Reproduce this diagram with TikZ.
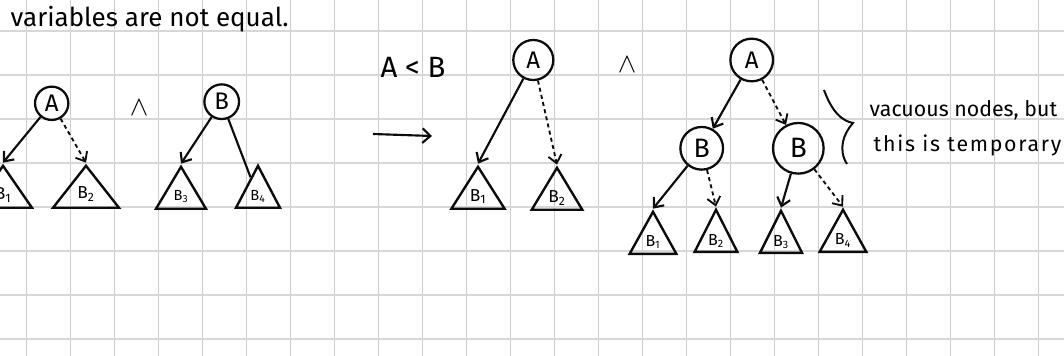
\documentclass[tikz,border=0pt]{standalone}
\usepackage{fontspec}
\setmainfont{Fira Sans}
\usepackage{xcolor}
\definecolor{gridgrey}{RGB}{205, 205, 205}
\definecolor{inkblack}{RGB}{12, 12, 12}
\usetikzlibrary{
  arrows.meta,
  shapes.geometric,
  calc
}

\begin{document}
\begin{tikzpicture}[x=0.75pt, y=-0.75pt,
  var/.style={circle, draw=inkblack, line width=1.7pt, inner sep=0pt, minimum size=#1, font=\fontsize{18}{18}\selectfont},
  subtree/.style={isosceles triangle, isosceles triangle stretches, shape border rotate=90, draw=inkblack, line width=1.8pt, inner sep=0pt, minimum width=#1, minimum height=31.5pt, anchor=lower side, font=\fontsize{13}{13}\selectfont},
  edge/.style={line width=1.6pt, inkblack, -{Straight Barb[length=6pt, width=10pt]}},
  vac/.style={edge, dash pattern=on 3pt off 2.5pt, line width=1.4pt},
  wedge/.style={font=\fontsize{20}{20}\selectfont},
  hand/.style={font=\fontsize{16}{16}\selectfont, anchor=base west}
]
  \useasboundingbox (0,0) rectangle (1064,356);

  % grid paper
  \foreach \gx in {0,...,23}
    \draw[gridgrey, line width=0.75pt] ({26.7+44*\gx},0) -- ({26.7+44*\gx},356);
  \foreach \gy in {0,...,7}
    \draw[gridgrey!80, line width=1.5pt] (0,{30.7+44*\gy}) -- (1064,{30.7+44*\gy});

  % heading
  \node[anchor=base west, font=\fontsize{19.5}{19.5}\selectfont] (head) at (6,27) {variables are not equal.};

  % first tree, rooted at A
  \node[var=25pt] (a1) at (51.7,103.3) {A};
  \node[subtree=43.5pt] (t11) at (3,209) {B\textsubscript{1}};
  \node[subtree=49.5pt] (t12) at (86,209) {B\textsubscript{2}};
  \draw[edge] (a1) -- (t11.apex);
  \draw[vac] (a1) -- (t12.apex);

  \node[wedge] (and1) at (139,108) {$\wedge$};

  % second tree, rooted at B
  \node[var=26pt] (b1) at (221.7,101.7) {B};
  \node[subtree=37.5pt, font=\fontsize{11}{11}\selectfont] (t13) at (181,210) {B\textsubscript{3}};
  \node[subtree=33pt, font=\fontsize{11}{11}\selectfont] (t14) at (258,209) {B\textsubscript{4}};
  \draw[edge] (b1) -- (t13.apex);
  \draw[line width=1.6pt, inkblack] (b1) -- (t14);

  % the rewrite step
  \node[font=\fontsize{22}{22}\selectfont] (ineq) at (413,67) {A < B};
  \coordinate (go0) at (373,134);
  \coordinate (go1) at (432,136);
  \draw[line width=1.6pt, inkblack, -{Straight Barb[length=6pt, width=11pt]}] (go0) -- (go1);

  \node[var=30pt] (a2) at (533.3,60) {A};
  \node[subtree=40pt] (t21) at (478,210) {B\textsubscript{1}};
  \node[subtree=38pt] (t22) at (557,211) {B\textsubscript{2}};
  \draw[edge] (a2) -- (t21.apex);
  \draw[vac] (a2) -- (t22.apex);

  \node[wedge] (and2) at (627,65) {$\wedge$};

  % merged tree with vacuous B nodes
  \node[var=32pt] (a3) at (751.7,60) {A};
  \node[var=32pt, font=\fontsize{20}{20}\selectfont] (b3l) at (701.7,148.3) {B};
  \node[var=38pt, font=\fontsize{21}{21}\selectfont] (b3r) at (798.3,148.3) {B};
  \draw[edge] (a3) -- (b3l);
  \draw[vac] (a3) -- (b3r);

  \node[subtree=35pt, font=\fontsize{12}{12}\selectfont] (t31) at (653,255) {B\textsubscript{1}};
  \node[subtree=32pt, font=\fontsize{12}{12}\selectfont] (t32) at (716,253) {B\textsubscript{2}};
  \node[subtree=31.5pt, font=\fontsize{12}{12}\selectfont] (t33) at (781,254) {B\textsubscript{3}};
  \node[subtree=35pt, font=\fontsize{12}{12}\selectfont] (t34) at (843,253) {B\textsubscript{4}};
  \draw[edge] (b3l) -- (t31.apex);
  \draw[vac] (b3l) -- (t32.apex);
  \draw[edge] (b3r) -- (t33.apex);
  \draw[vac] (b3r) -- (t34.apex);

  % brace and note
  \draw[line width=1.5pt, inkblack] (824,90) .. controls (832,112) and (842,121) .. (853,123)
    .. controls (843,134) and (838,150) .. (847,164);
  \node[hand] (note1) at (865,117) {vacuous nodes, but};
  \node[hand, font=\fontsize{16}{16}\selectfont\addfontfeature{LetterSpace=8}] (note2) at (869,152) {this is temporary};
\end{tikzpicture}
\end{document}
